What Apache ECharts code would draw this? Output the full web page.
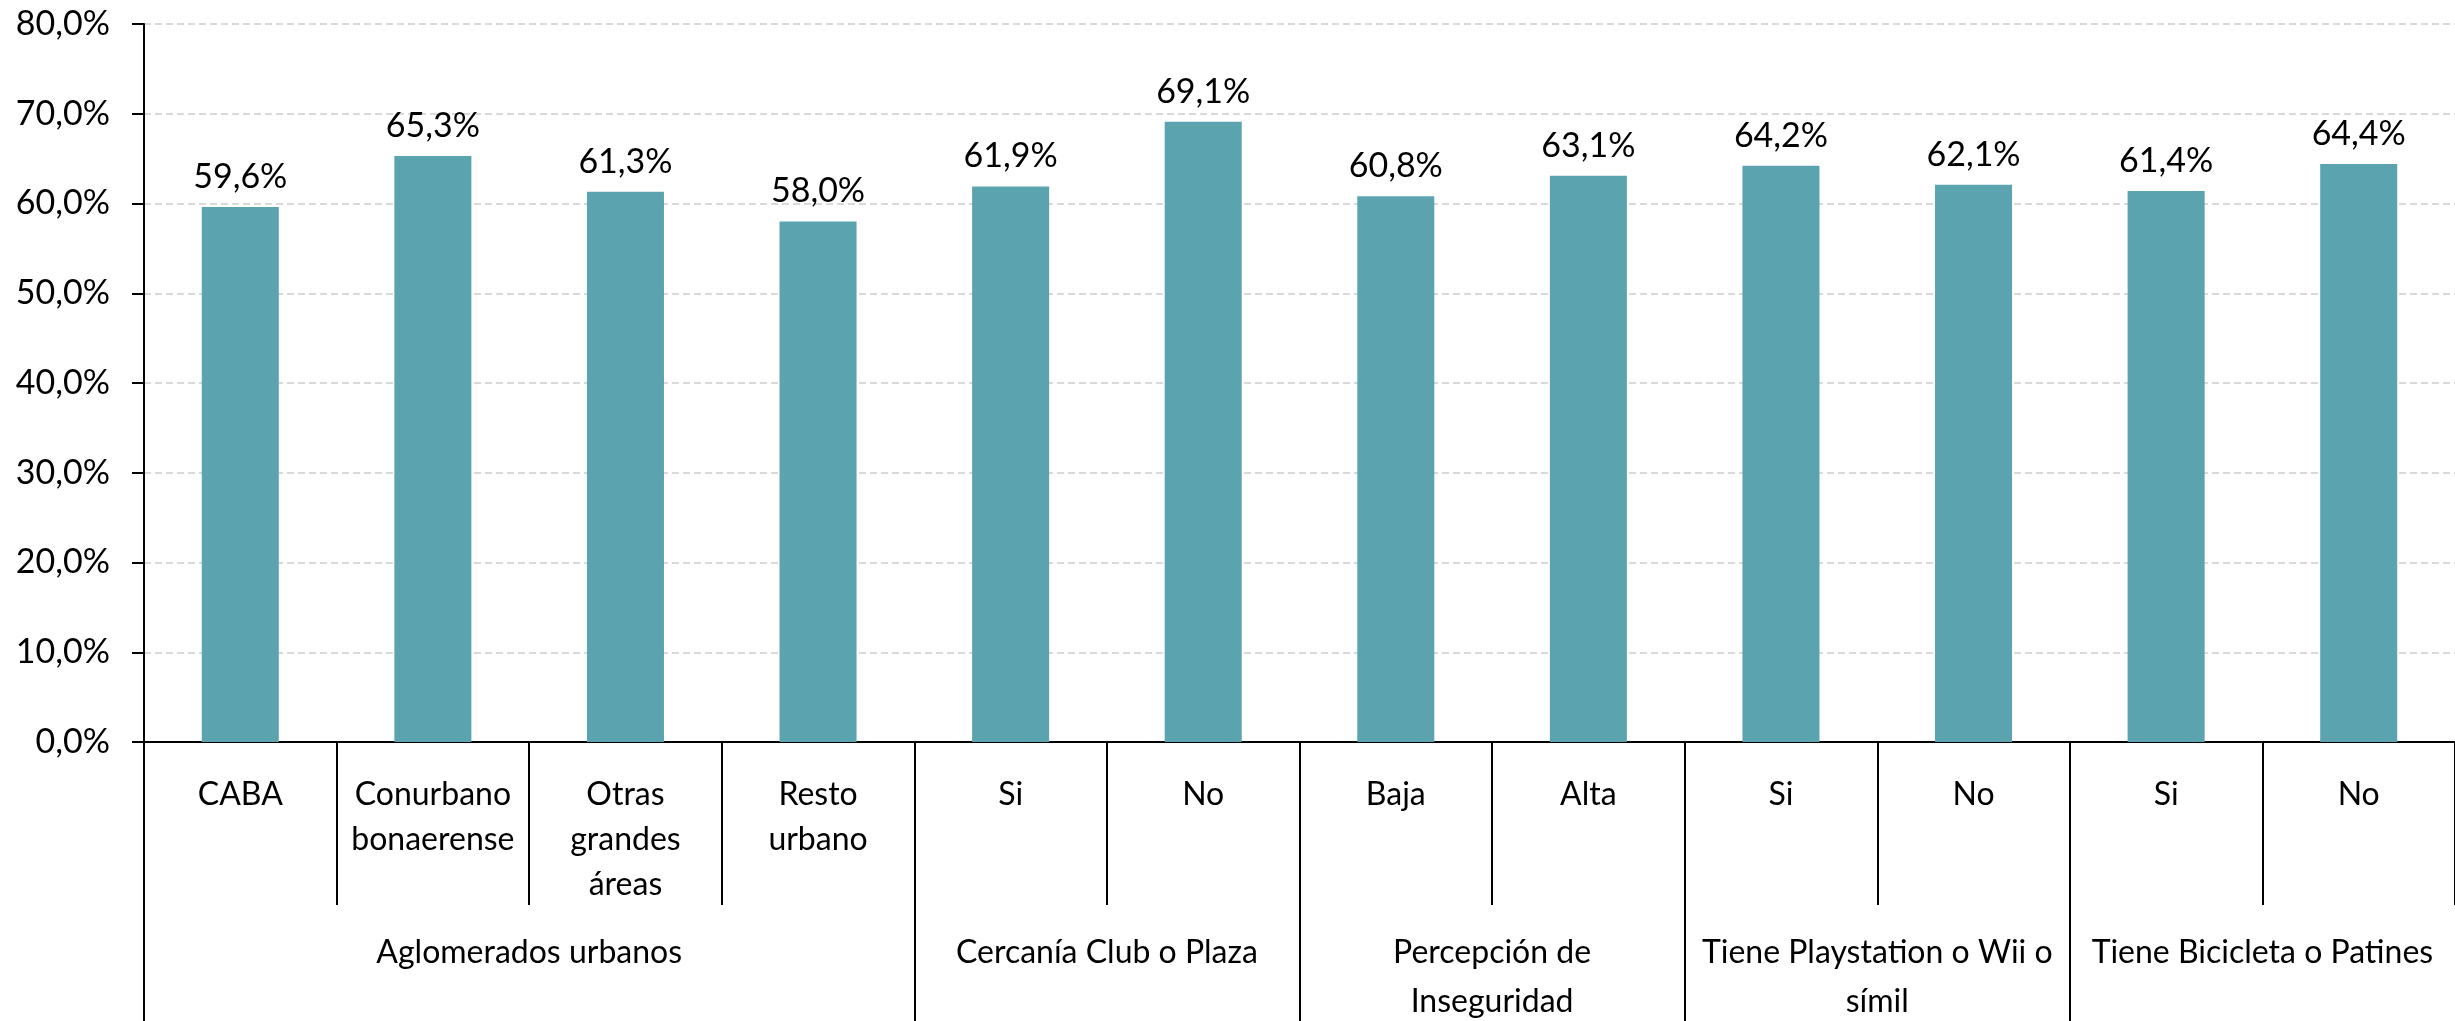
<!DOCTYPE html>
<html>
<head>
<meta charset="utf-8">
<script src="https://cdn.jsdelivr.net/npm/echarts@6/dist/echarts.min.js"></script>
<style>
  html, body { margin: 0; padding: 0; background: #fff; }
  #chart { width: 2455px; height: 1021px; }
</style>
</head>
<body>
<div id="chart"></div>
<script>
// subcategorias (eje inferior)
var categories = ['CABA', 'Conurbano\nbonaerense', 'Otras\ngrandes\náreas', 'Resto\nurbano',
    'Si', 'No', 'Baja', 'Alta', 'Si', 'No', 'Si', 'No'];
// porcentajes
var values = [59.6, 65.3, 61.3, 58.0, 61.9, 69.1, 60.8, 63.1, 64.2, 62.1, 61.4, 64.4];
// grupos y cuantas subcategorias abarca cada uno
var groups = ['Aglomerados urbanos', 'Cercanía Club o Plaza', 'Percepción de\nInseguridad',
    'Tiene Playstation o Wii o\nsímil', 'Tiene Bicicleta o Patines'];
var groupSizes = [4, 2, 2, 2, 2];
var yTicks = [0, 10, 20, 30, 40, 50, 60, 70, 80];

var fmt = function (v) { return v.toFixed(1).replace('.', ',') + '%'; };

// limites y centros de grupo en unidades de categoria
var bounds = [0], centers = [], centerName = {};
groupSizes.forEach(function (n, i) {
    var start = bounds[bounds.length - 1];
    bounds.push(start + n);
    centers.push(start + n / 2);
    centerName[start + n / 2] = groups[i];
});

var font = 'Lato, "Open Sans", sans-serif';
var chart = echarts.init(document.getElementById('chart'));
chart.setOption({
    animation: false,
    textStyle: { fontFamily: font },
    grid: { left: 144, right: 0, top: 24, bottom: 279, containLabel: false, outerBoundsMode: 'none' },
    xAxis: [{
        type: 'category',
        data: categories,
        axisLine: { lineStyle: { color: '#000', width: 2 } },
        axisTick: { show: true, length: 163, alignWithLabel: false, lineStyle: { color: '#000', width: 2 } },
        axisLabel: { color: '#000', fontSize: 32, lineHeight: 45, margin: 30, interval: 0, fontFamily: font }
    }, {
        type: 'value',
        position: 'bottom',
        min: 0,
        max: categories.length,
        axisLine: { show: false },
        splitLine: { show: false },
        axisTick: {
            show: true, length: 279,
            customValues: bounds.slice(0, bounds.length - 1),
            lineStyle: { color: '#000', width: 2 }
        },
        axisLabel: {
            customValues: centers,
            formatter: function (v) { return centerName[v] || ''; },
            color: '#000', fontSize: 32, lineHeight: 49, margin: 186, fontFamily: font
        }
    }],
    yAxis: {
        type: 'value',
        min: yTicks[0],
        max: yTicks[yTicks.length - 1],
        interval: 10,
        axisLine: { show: true, lineStyle: { color: '#000', width: 2 } },
        axisTick: { show: true, length: 12, lineStyle: { color: '#000', width: 2 } },
        axisLabel: { formatter: fmt, color: '#000', fontSize: 34, margin: 34, fontFamily: font },
        splitLine: { lineStyle: { color: '#d9d9d9', width: 2, type: [7, 4] } }
    },
    series: [{
        type: 'bar',
        data: values,
        barWidth: '40%',
        itemStyle: { color: '#5BA3AF' },
        label: {
            show: true, position: 'top', distance: 13,
            formatter: function (p) { return fmt(p.value); },
            color: '#000', fontSize: 34, fontFamily: font
        }
    }]
});
</script>
</body>
</html>
